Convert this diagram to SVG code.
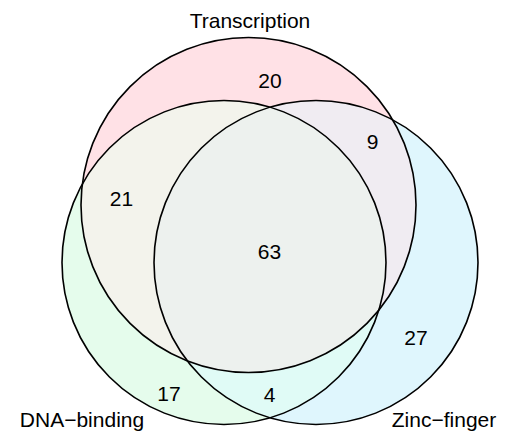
<svg xmlns="http://www.w3.org/2000/svg" width="510" height="431" viewBox="0 0 510 431">
<style>
.lbl{font-family:"Liberation Sans",Arial,sans-serif;font-size:21px;fill:#000;text-anchor:middle}
.ol{fill:none;stroke:#000;stroke-width:1.6}
</style>
<defs>
<clipPath id="cT"><circle cx="248.5" cy="205" r="167.5"/></clipPath>
<clipPath id="cD"><circle cx="224" cy="262.5" r="162"/></clipPath>
</defs>
<rect width="510" height="431" fill="#fff"/>
<g id="fills">
<circle cx="248.5" cy="205" r="167.5" fill="#FFE1E6"/>
<circle cx="224" cy="262.5" r="162" fill="#E5FCEC"/>
<circle cx="316" cy="262.5" r="162" fill="#DFF6FD"/>
<circle cx="224" cy="262.5" r="162" fill="#F3F3EC" clip-path="url(#cT)"/>
<circle cx="316" cy="262.5" r="162" fill="#F0ECF2" clip-path="url(#cT)"/>
<circle cx="316" cy="262.5" r="162" fill="#E0FBF6" clip-path="url(#cD)"/>
<g clip-path="url(#cT)"><circle cx="316" cy="262.5" r="162" fill="#EDF1EE" clip-path="url(#cD)"/></g>
</g>
<g id="transcription">
<circle class="ol" cx="248.5" cy="205" r="167.5"/>
<text class="lbl" x="250" y="27.5">Transcription</text>
</g>
<g id="dna-binding">
<circle class="ol" cx="224" cy="262.5" r="162"/>
<text class="lbl" x="82" y="427">DNA−binding</text>
</g>
<g id="zinc-finger">
<circle class="ol" cx="316" cy="262.5" r="162"/>
<text class="lbl" x="444" y="427">Zinc−finger</text>
</g>
<g id="counts">
<text class="lbl" x="270" y="88.3">20</text>
<text class="lbl" x="372.5" y="149.3">9</text>
<text class="lbl" x="121.5" y="205.7">21</text>
<text class="lbl" x="269.5" y="259.3">63</text>
<text class="lbl" x="416" y="345">27</text>
<text class="lbl" x="169" y="400.7">17</text>
<text class="lbl" x="269.5" y="401.7">4</text>
</g>
<g id="connectors"/>
</svg>
